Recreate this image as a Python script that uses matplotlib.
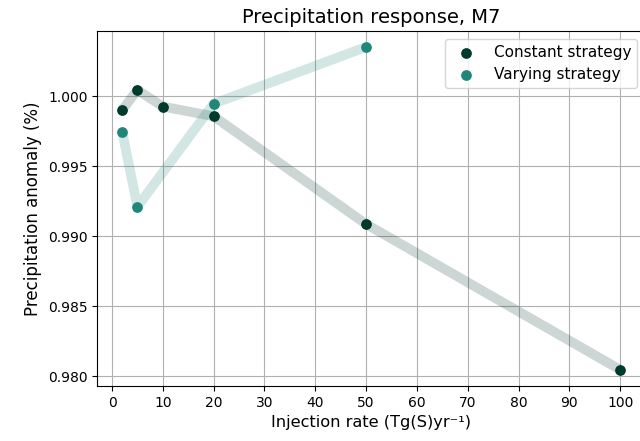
import matplotlib.pyplot as plt

# Datos
tasa = [2, 5, 10, 20, 50, 100]
constante = [0.9990, 1.00043, 0.99925, 0.99855, 0.99085, 0.98045]

tasa_var = [2, 5, 20, 50]
variable = [0.99745, 0.99210, 0.99945, 1.00350]

color_const = '#003a2d'
color_var = '#21867a'

fig, ax = plt.subplots(figsize=(6.4, 4.41), dpi=100)

ax.plot(tasa, constante, color=color_const, alpha=0.2, linewidth=7, solid_capstyle='butt')
ax.plot(tasa_var, variable, color=color_var, alpha=0.2, linewidth=7, solid_capstyle='butt')
ax.scatter(tasa, constante, color=color_const, s=45, zorder=3, label='Constant strategy')
ax.scatter(tasa_var, variable, color=color_var, s=45, zorder=3, label='Varying strategy')

ax.set_title('Precipitation response, M7', fontsize=14)
ax.set_xlabel('Injection rate (Tg(S)yr⁻¹)', fontsize=11.7)
ax.set_ylabel('Precipitation anomaly (%)', fontsize=12)
ax.set_xticks(range(0, 101, 10))
ax.tick_params(labelsize=10)
ax.grid(True)
ax.legend(loc='upper right', fontsize=11)

# El eje derecho queda recortado en el original
fig.subplots_adjust(left=0.152, right=1.008, top=0.930, bottom=0.125)
fig.savefig('out.png', dpi=100)
